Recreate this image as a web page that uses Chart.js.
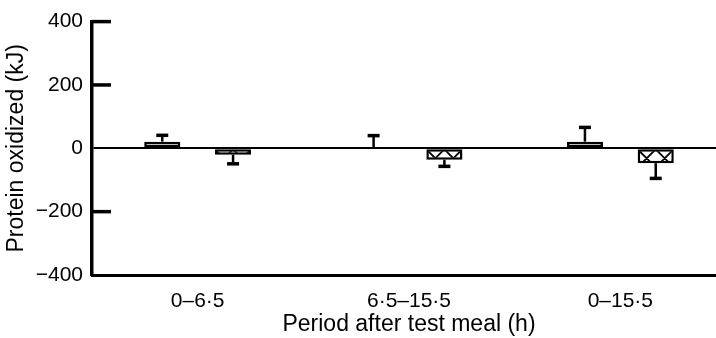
<!DOCTYPE html>
<html>
<head>
<meta charset="utf-8">
<script src="https://cdn.jsdelivr.net/npm/chart.js@4"></script>
<style>
  html, body { margin: 0; padding: 0; overflow: hidden; background: #fff; }
  #wrap { width: 726px; height: 338px; }
</style>
</head>
<body>
<div id="wrap"><canvas id="grafico"></canvas></div>
<script>
// dados (kJ)
var categorias = ["0–6·5", "6·5–15·5", "0–15·5"];
var serieA = [21, 0, 21];
var erroA = [20, 40, 45];
var serieB = [-20, -36, -47];
var erroB = [29, 21, 48];
var ticksY = [-400, -200, 0, 200, 400];
var rotulosY = ["−400", "−200", "0", "200", "400"];

var fonteTicks = { family: "'Liberation Sans', Arial, sans-serif", size: 21 };
var fonteTitulo = { family: "'Liberation Sans', Arial, sans-serif", size: 23 };

// barras de erro (só para fora da barra)
var pluginErro = {
  id: "erro",
  afterDatasetsDraw: function(chart) {
    var c = chart.ctx;
    var y = chart.scales.y;
    var erros = [erroA, erroB];
    c.save();
    c.strokeStyle = "#000";
    chart.data.datasets.forEach(function(ds, d) {
      var meta = chart.getDatasetMeta(d);
      meta.data.forEach(function(bar, i) {
        var v = ds.data[i];
        var dir = v < 0 ? -1 : 1;
        var x = bar.x;
        var y0 = y.getPixelForValue(v);
        var y1 = y.getPixelForValue(v + dir * erros[d][i]);
        c.lineWidth = 2.5;
        c.beginPath();
        c.moveTo(x, y0);
        c.lineTo(x, y1);
        c.stroke();
        c.lineWidth = 3.5;
        c.beginPath();
        c.moveTo(x - 6, y1);
        c.lineTo(x + 6, y1);
        c.stroke();
      });
    });
    c.restore();
  }
};

// hachura cruzada na segunda série
var pluginHachura = {
  id: "hachura",
  afterDatasetDraw: function(chart, args) {
    if (args.index !== 1) return;
    var c = chart.ctx;
    args.meta.data.forEach(function(bar) {
      var p = bar.getProps(["x", "y", "base", "width"], true);
      var esq = p.x - p.width / 2 + 2;
      var dir = p.x + p.width / 2 - 2;
      var topo = Math.min(p.y, p.base) + 2;
      var fundo = Math.max(p.y, p.base) - 2;
      if (fundo <= topo) return;
      c.save();
      c.beginPath();
      c.rect(esq, topo, dir - esq, fundo - topo);
      c.clip();
      c.strokeStyle = "#000";
      c.lineWidth = 1.8;
      var passo = 18;
      var x0 = esq - 2, y0 = topo - 2;
      c.beginPath();
      for (var k = -4; k < 6; k++) {
        c.moveTo(x0 + k * passo, y0);
        c.lineTo(x0 + k * passo + 60, y0 + 60);
        c.moveTo(x0 + k * passo, y0);
        c.lineTo(x0 + k * passo - 60, y0 + 60);
      }
      c.stroke();
      c.restore();
    });
  }
};

// marcas do eixo y para dentro
var pluginMarcas = {
  id: "marcas",
  afterDraw: function(chart) {
    var c = chart.ctx;
    var y = chart.scales.y;
    var esq = chart.chartArea.left;
    c.save();
    c.strokeStyle = "#000";
    c.lineWidth = 3.5;
    ticksY.forEach(function(v) {
      if (v === 0 || v === ticksY[0]) return;
      var py = y.getPixelForValue(v);
      c.beginPath();
      c.moveTo(esq, py);
      c.lineTo(esq + 19, py);
      c.stroke();
    });
    c.restore();
  }
};

var ctx = document.getElementById("grafico").getContext("2d");

var grafico = new Chart(ctx, {
  type: "bar",
  data: {
    labels: categorias,
    datasets: [
      {
        data: serieA,
        backgroundColor: "#fff",
        borderColor: "#000",
        borderWidth: 2.5,
        borderSkipped: false,
        categoryPercentage: 0.67,
        barPercentage: 0.51
      },
      {
        data: serieB,
        backgroundColor: "#fff",
        borderColor: "#000",
        borderWidth: 2.5,
        borderSkipped: false,
        categoryPercentage: 0.67,
        barPercentage: 0.51
      }
    ]
  },
  options: {
    responsive: true,
    maintainAspectRatio: false,
    animation: false,
    layout: { padding: { top: 14, left: 0, right: 0, bottom: 0 } },
    plugins: {
      legend: { display: false },
      tooltip: { enabled: false }
    },
    scales: {
      x: {
        grid: { display: false },
        border: { display: true, color: "#000", width: 3 },
        ticks: { color: "#000", font: fonteTicks, padding: 6 },
        title: {
          display: true,
          text: "Period after test meal (h)",
          color: "#000",
          font: fonteTitulo,
          padding: { top: 0, bottom: 0 }
        },
        afterFit: function(s) { s.height = 63; }
      },
      y: {
        min: -400,
        max: 400,
        afterBuildTicks: function(s) {
          s.ticks = ticksY.map(function(v) { return { value: v }; });
        },
        grid: {
          drawTicks: false,
          color: function(c) { return c.tick && c.tick.value === 0 ? "#000" : "rgba(0,0,0,0)"; },
          lineWidth: 2
        },
        border: { display: true, color: "#000", width: 3.5 },
        ticks: {
          color: "#000",
          font: fonteTicks,
          padding: 9,
          callback: function(v) { return rotulosY[ticksY.indexOf(v)]; }
        },
        title: {
          display: true,
          text: "Protein oxidized (kJ)",
          color: "#000",
          font: fonteTitulo,
          padding: { top: 3, bottom: 0 }
        },
        afterFit: function(s) { s.width = 92; }
      }
    }
  },
  plugins: [pluginHachura, pluginErro, pluginMarcas]
});
</script>
</body>
</html>
